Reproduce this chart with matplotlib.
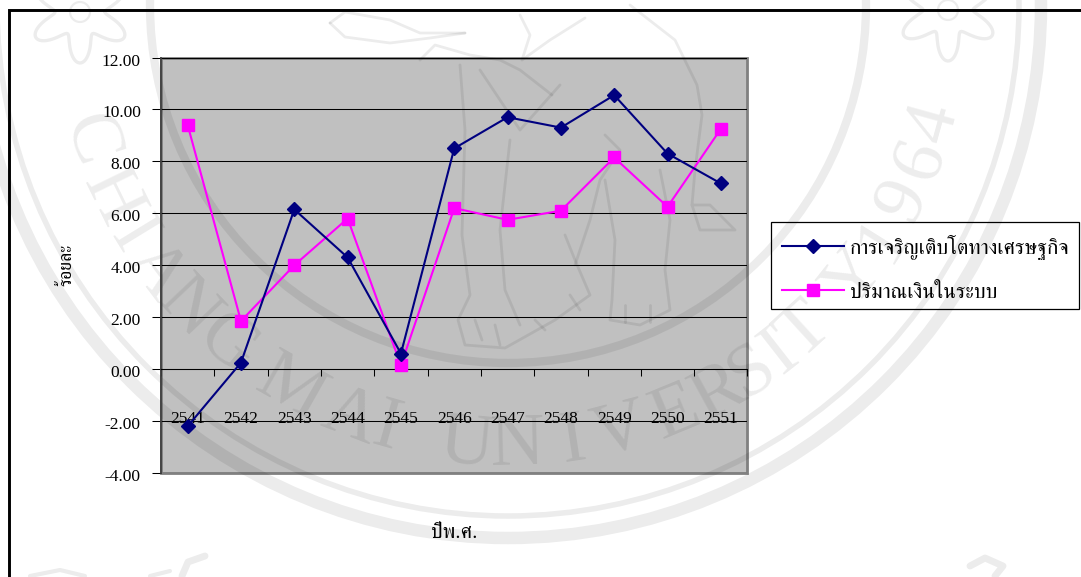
import numpy as np
import matplotlib
matplotlib.use('Agg')
import matplotlib.pyplot as plt
from matplotlib.lines import Line2D
from matplotlib.patches import Circle, Rectangle
from matplotlib.transforms import Affine2D

# ข้อมูล พ.ศ. 2541-2551
years = ['2541', '2542', '2543', '2544', '2545', '2546', '2547', '2548', '2549', '2550', '2551']
growth = [-2.2, 0.25, 6.15, 4.3, 0.6, 8.5, 9.7, 9.3, 10.55, 8.3, 7.15]
money = [9.4, 1.85, 4.0, 5.8, 0.15, 6.2, 5.75, 6.1, 8.15, 6.25, 9.25]
y_ticks = [-4, -2, 0, 2, 4, 6, 8, 10, 12]

W, H = 1081, 577
THAI = ['FreeSerif', 'Liberation Serif', 'DejaVu Sans']
plt.rcParams['font.family'] = ['Liberation Serif', 'DejaVu Serif']

fig = plt.figure(figsize=(W / 100, H / 100), dpi=100)
ax = fig.add_axes([161 / W, (H - 473) / H, 586.5 / W, 415.5 / H])

# พิกัดพิกเซลนับจากมุมซ้ายบน ใช้กับลายน้ำ กรอบ และคำอธิบาย
px = Affine2D().scale(1, -1).translate(0, H)

# --- ลายน้ำตรามหาวิทยาลัย ---
WM = (0, 0, 0, 0.075)
cx, cy = 508, 5


def ring(r, lw):
    ax.add_artist(Circle((cx, cy), r, fill=False, ec=WM, lw=lw, transform=px, clip_on=False, zorder=0.3))


def stroke(pts, lw=2.0):
    xs, ys = zip(*pts)
    ax.add_artist(Line2D(xs, ys, color=WM, lw=lw, transform=px, clip_on=False, zorder=0.3,
                         solid_capstyle='round', solid_joinstyle='round'))


ring(533, 9)
ring(511, 4)
ring(358, 6)

letters = [('C', 72), ('H', 64), ('I', 58.5), ('A', 53), ('N', 46.5), ('G', 39.5),
           ('M', 29.5), ('A', 21), ('I', 16), ('U', 5.5), ('N', -1.3), ('I', -8.5),
           ('V', -14.7), ('E', -22.4), ('R', -28.6), ('S', -33.7), ('I', -38), ('T', -42.4),
           ('Y', -51.7), ('1', -58), ('9', -63.7), ('6', -69.5), ('4', -74.5)]
for ch, ang in letters:
    a = np.radians(ang)
    ax.text(cx - 442 * np.sin(a), cy + 442 * np.cos(a), ch, transform=px, fontsize=54,
            rotation=-ang, rotation_mode='anchor', ha='center', va='center',
            color=WM, zorder=0.3, clip_on=False)

# ดอกไม้มุมบน
for fx, fy in [(80, 12), (948, 10)]:
    th = np.linspace(0, 2 * np.pi, 200)
    rad = 38 + 13 * np.cos(6 * (th - np.pi / 2))
    stroke(list(zip(fx + rad * np.cos(th), fy + rad * np.sin(th))), 2.4)
    stroke(list(zip(fx + 10 * np.cos(th), fy + 10 * np.sin(th))), 1.6)

# โครงร่างช้าง
elephant = [
    [(330, 23), (345, 12), (390, 20), (420, 33), (465, 33)],
    [(330, 23), (345, 37), (390, 43), (430, 38), (465, 33)],
    [(420, 60), (435, 45), (470, 55), (500, 60), (520, 70), (552, 95)],
    [(520, 15), (530, 35), (522, 60), (550, 40), (585, 18)],
    [(630, 5), (675, 40), (697, 85), (702, 115), (695, 170), (692, 205), (700, 230), (735, 230), (710, 205), (692, 205)],
    [(460, 65), (465, 130), (462, 235), (470, 295), (458, 320), (465, 345), (505, 348), (555, 320), (590, 295), (575, 260), (565, 235)],
    [(510, 140), (500, 230), (505, 290), (520, 325)],
    [(605, 180), (615, 240), (612, 300), (610, 320), (640, 325), (670, 310), (665, 270), (670, 220), (660, 170)],
    [(575, 265), (590, 220), (600, 180), (620, 150), (605, 135)],
    [(480, 70), (520, 130), (560, 85)],
    [(475, 320), (482, 340)], [(495, 325), (500, 345)], [(535, 320), (545, 330)], [(570, 295), (580, 310)],
    [(625, 305), (625, 322)], [(650, 305), (650, 322)],
]
for pts in elephant:
    stroke(pts)

# ลายด้านล่าง
stroke([(182, 576), (188, 562), (205, 556)], 5)
stroke([(970, 566), (985, 558), (1003, 566), (995, 576)], 5)
stroke([(30, 576), (60, 570), (85, 576)], 3)
stroke([(150, 576), (170, 571)], 3)

# --- กราฟ ---
x = np.arange(len(years))
ax.plot(x, money, color='#FF00FF', lw=1.5, marker='s', ms=8.6, mec='#FF00FF', zorder=3)
ax.plot(x, growth, color='#000080', lw=1.5, marker='D', ms=7.5, mec='#000080', zorder=3.1)

ax.set_xlim(-0.5, len(years) - 0.5)
ax.set_ylim(-4, 12)
ax.set_facecolor('#C0C0C0')
ax.patch.set_edgecolor('#808080')
ax.patch.set_linewidth(2)
ax.set_axisbelow(True)
ax.yaxis.grid(True, color='black', lw=0.75)

for side in ['top', 'right']:
    ax.spines[side].set_visible(False)
ax.spines['left'].set_color('#404040')
ax.spines['left'].set_linewidth(1.3)
ax.spines['bottom'].set_position(('data', 0))
ax.spines['bottom'].set_linewidth(0.75)

ax.set_yticks(y_ticks)
ax.set_yticklabels(['%.2f' % v for v in y_ticks], fontsize=12.5)
ax.tick_params(axis='y', length=6.5, width=0.75, pad=8)
# ตัวเลขแกนตั้งอยู่ต่ำกว่าขีดเล็กน้อย
for lab in ax.get_yticklabels():
    lab.set_transform(lab.get_transform() + Affine2D().translate(0, -2))
ax.set_xticks(x)
ax.set_xticklabels(years, fontsize=12.5)
ax.set_xticks(np.arange(len(years) + 1) - 0.5, minor=True)
ax.tick_params(axis='x', which='major', length=0, pad=30.5)
ax.tick_params(axis='x', which='minor', length=5, width=0.75)

ax.set_ylabel('ร้อยละ', fontsize=13, family=THAI)
ax.yaxis.set_label_coords(-0.146, 0.5)
ax.set_xlabel('ปีพ.ศ.', fontsize=15, family=THAI)
ax.xaxis.set_label_coords(0.4996, -0.121)

# คำอธิบายสัญลักษณ์
handles = [Line2D([], [], color='#000080', lw=1.5, marker='D', ms=7.5),
           Line2D([], [], color='#FF00FF', lw=1.5, marker='s', ms=8.6)]
leg = ax.legend(handles, ['การเจริญเติบโตทางเศรษฐกิจ', 'ปริมาณเงินในระบบ'],
                loc='upper left', bbox_to_anchor=(771, 224), bbox_transform=px,
                borderaxespad=0, prop={'family': THAI, 'size': 15.2}, handlelength=2.95,
                handletextpad=0.3, labelspacing=1.1, borderpad=0.5, frameon=False,
                alignment='left')
leg.set_zorder(5)
ax.add_artist(Rectangle((771, 222), 308, 87, fill=False, ec='black', lw=0.9, transform=px,
                        clip_on=False, zorder=5))

# เส้นกรอบบนและซ้าย
fig.add_artist(Line2D([8.5, 8.5, W], [H, 9.5, 9.5], color='black', lw=2.1, transform=px, solid_joinstyle='miter'))

fig.savefig('out.png', dpi=100)
